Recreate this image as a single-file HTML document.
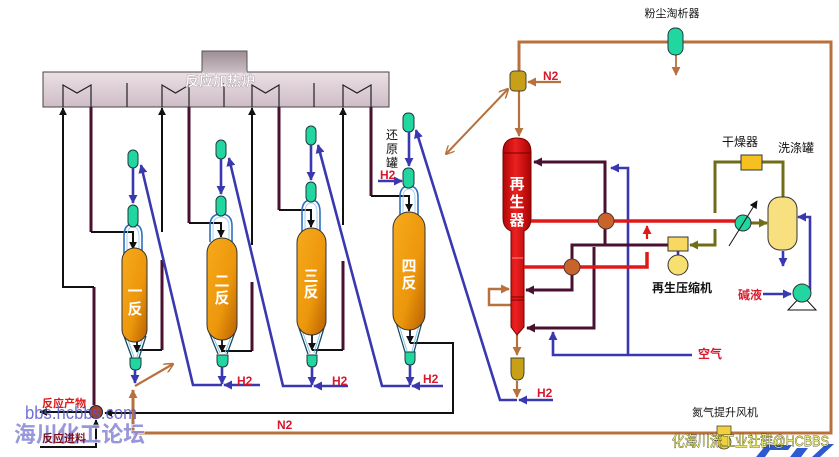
<!DOCTYPE html>
<html><head><meta charset="utf-8">
<style>
html,body{margin:0;padding:0;background:#fff;}
svg{display:block;font-family:"Liberation Sans","Noto Sans CJK SC",sans-serif;}
</style></head>
<body>
<svg width="839" height="457" viewBox="0 0 839 457" xmlns="http://www.w3.org/2000/svg">
<defs>
<linearGradient id="hg" x1="0" y1="0" x2="0" y2="1"><stop offset="0" stop-color="#ece0e6"/><stop offset="1" stop-color="#cfbcc6"/></linearGradient>
<linearGradient id="cg" x1="0" y1="0" x2="0" y2="1"><stop offset="0" stop-color="#9e8e96"/><stop offset="1" stop-color="#cbbfc5"/></linearGradient>
<linearGradient id="og" x1="0" y1="0" x2="1" y2="1"><stop offset="0" stop-color="#f7aa1c"/><stop offset="0.6" stop-color="#ec960c"/><stop offset="1" stop-color="#b86000"/></linearGradient>
<linearGradient id="rg" x1="0" y1="0" x2="1" y2="0"><stop offset="0" stop-color="#b00808"/><stop offset="0.45" stop-color="#ec2020"/><stop offset="1" stop-color="#a80404"/></linearGradient>
<marker id="mk" viewBox="0 0 10 10" refX="9" refY="5" markerWidth="8" markerHeight="8" markerUnits="userSpaceOnUse" orient="auto"><path d="M0,0L10,5L0,10z" fill="#111"/></marker>
<marker id="mb" viewBox="0 0 10 10" refX="9" refY="5" markerWidth="9" markerHeight="9" markerUnits="userSpaceOnUse" orient="auto"><path d="M0,0L10,5L0,10z" fill="#3a38b0"/></marker>
<marker id="mr" viewBox="0 0 10 10" refX="9" refY="5" markerWidth="9" markerHeight="9" markerUnits="userSpaceOnUse" orient="auto"><path d="M0,0L10,5L0,10z" fill="#b8703c"/></marker>
<marker id="mrs" viewBox="0 0 10 10" refX="1" refY="5" markerWidth="9" markerHeight="9" markerUnits="userSpaceOnUse" orient="auto"><path d="M10,0L0,5L10,10" fill="none" stroke="#b8703c" stroke-width="1.5"/></marker>
<marker id="mro" viewBox="0 0 10 10" refX="9" refY="5" markerWidth="10" markerHeight="10" markerUnits="userSpaceOnUse" orient="auto"><path d="M0,0L10,5L0,10" fill="none" stroke="#b8703c" stroke-width="1.5"/></marker>
<marker id="mm" viewBox="0 0 10 10" refX="9" refY="5" markerWidth="9" markerHeight="9" markerUnits="userSpaceOnUse" orient="auto"><path d="M0,0L10,5L0,10z" fill="#4a1030"/></marker>
<marker id="mred" viewBox="0 0 10 10" refX="9" refY="5" markerWidth="9" markerHeight="9" markerUnits="userSpaceOnUse" orient="auto"><path d="M0,0L10,5L0,10z" fill="#e01818"/></marker>
<marker id="mo" viewBox="0 0 10 10" refX="9" refY="5" markerWidth="9" markerHeight="9" markerUnits="userSpaceOnUse" orient="auto"><path d="M0,0L10,5L0,10z" fill="#706c18"/></marker>
</defs>

<!-- Heater -->
<rect x="202" y="51" width="45" height="22" fill="url(#cg)" stroke="#555" stroke-width="1"/>
<rect x="43" y="72" width="346" height="35" fill="url(#hg)" stroke="#444" stroke-width="1"/>
<line x1="202" y1="72" x2="247" y2="72" stroke="#c8bcc2" stroke-width="1.5"/>
<g fill="none" stroke="#222" stroke-width="1.2">
<polyline points="63,107 63,85 77,93 91,85 91,107"/>
<polyline points="162,107 162,85 175.5,93 189,85 189,107"/>
<polyline points="252,107 252,85 265.5,93 279,85 279,107"/>
<polyline points="343,107 343,85 357,93 371,85 371,107"/>
<line x1="127" y1="83" x2="127" y2="107"/>
<line x1="224" y1="83" x2="224" y2="107"/>
<line x1="314" y1="83" x2="314" y2="107"/>
</g>
<text x="220" y="86" text-anchor="middle" fill="#fff" font-size="14" font-weight="bold" stroke="#a89ca2" stroke-width="0.4">反应加热炉</text>

<!-- Maroon lines -->
<g fill="none" stroke="#4a1030" stroke-width="3">
<path d="M91,107 L91,232"/>
<path d="M189,107 L189,223"/>
<path d="M279,107 L279,210"/>
<path d="M371,107 L371,196"/>
<path d="M94,405 L94,287"/>
<path d="M162,350 L162,260"/>
<path d="M252,351 L252,282"/>
<path d="M343,350 L343,261"/>
</g>

<!-- Black lines -->
<g fill="none" stroke="#111" stroke-width="2">
<path d="M94,287 L63,287 L63,108" marker-end="url(#mk)"/>
<path d="M162,232 L162,108" marker-end="url(#mk)"/>
<path d="M252,245 L252,108" marker-end="url(#mk)"/>
<path d="M343,225 L343,108" marker-end="url(#mk)"/>
<path d="M91,232 L133,232 L133,249" marker-end="url(#mk)"/>
<path d="M189,223 L221,223 L221,237" marker-end="url(#mk)"/>
<path d="M279,210 L311,210 L311,227" marker-end="url(#mk)"/>
<path d="M371,196 L409,196 L409,211" marker-end="url(#mk)"/>
<path d="M137,350 L162,350"/>
<path d="M222,351 L252,351"/>
<path d="M312,350 L343,350"/>
<path d="M410,343 L453,343 L453,413 L105,413" marker-end="url(#mk)"/>
<path d="M89,412 L40,412" marker-end="url(#mk)"/>
<path d="M40,447 L96,447 L96,420" marker-end="url(#mk)"/>
</g>

<!-- Brown N2 loop -->
<g fill="none" stroke="#b8703c" stroke-width="3">
<path d="M133,433 L831,433 L831,42 L519,42 L519,71"/>
<path d="M133,433 L133,390" marker-end="url(#mr)"/>
<path d="M135,386 L173,364" stroke-width="2.2" marker-end="url(#mro)"/>
<path d="M519,91 L519,136" stroke-width="2.2" marker-end="url(#mr)"/>
<path d="M561,82 L528,82" stroke-width="2.2" marker-end="url(#mr)"/>
<path d="M446,154 L508,89" stroke-width="2" marker-start="url(#mrs)" marker-end="url(#mro)"/>
<path d="M676,55 L676,75" stroke-width="1.8" marker-end="url(#mr)"/>
<path d="M511,305 L489,305 L489,289 L509,289" stroke-width="2.5" marker-end="url(#mr)"/>
<path d="M517,335 L517,355" stroke-width="2.2" marker-end="url(#mr)"/>
<path d="M517,381 L517,397" stroke-width="2.2" marker-end="url(#mr)"/>
</g>

<!-- Reactor top cups -->
<g fill="none" stroke="#2f6fc0" stroke-width="1.6">
<path d="M124,254 L124,236 Q124,224 133,224 Q142,224 142,236 L142,254"/>
<path d="M210,242 L210,226 Q210,214 221,214 Q232,214 232,226 L232,242"/>
<path d="M302,232 L302,212 Q302,200 311,200 Q320,200 320,212 L320,232"/>
<path d="M400,216 L400,197 Q400,186 409,186 Q418,186 418,197 L418,216"/>
</g>
<g fill="none" stroke="#9fd0f0" stroke-width="1">
<path d="M127,252 L127,237 Q127,227 133,227 Q139,227 139,237 L139,252"/>
<path d="M213,240 L213,227 Q213,217 221,217 Q229,217 229,227 L229,240"/>
<path d="M305,230 L305,213 Q305,203 311,203 Q317,203 317,213 L317,230"/>
<path d="M403,214 L403,198 Q403,189 409,189 Q415,189 415,198 L415,214"/>
</g>

<!-- Reactor bottom cones -->
<g fill="none" stroke="#1a4a60" stroke-width="1.3">
<path d="M124,336 L132,358 M146,336 L139,358"/>
<path d="M209,332 L218,354 M235,332 L227,354"/>
<path d="M299,328 L308,354 M324,328 L316,354"/>
<path d="M396,322 L405,352 M422,322 L414,352"/>
</g>
<g fill="none" stroke="#7fc8e8" stroke-width="1">
<path d="M127,337 L134,357 M143,337 L137,357"/>
<path d="M212,334 L220,353 M232,334 L225,353"/>
<path d="M302,330 L310,353 M321,330 L314,353"/>
<path d="M399,325 L407,351 M419,325 L412,351"/>
</g>

<!-- Reactors -->
<g stroke="#333" stroke-width="1" fill="url(#og)">
<rect x="122" y="248" width="25" height="94" rx="12.5"/>
<rect x="207" y="238" width="30" height="102" rx="15"/>
<rect x="297" y="228" width="29" height="107" rx="14.5"/>
<rect x="393" y="212" width="32" height="118" rx="16"/>
</g>
<g fill="#fff" font-size="15" font-weight="bold" text-anchor="middle">
<text x="135" y="296">一</text><text x="135" y="314">反</text>
<text x="222" y="286">二</text><text x="222" y="303">反</text>
<text x="311" y="281">三</text><text x="311" y="297">反</text>
<text x="409" y="271">四</text><text x="409" y="288">反</text>
</g>
<g stroke="#111" stroke-width="1.8" fill="none">
<path d="M137,342 L137,352" marker-end="url(#mk)"/>
<path d="M222,340 L222,352" marker-end="url(#mk)"/>
<path d="M312,335 L312,350" marker-end="url(#mk)"/>
<path d="M410,330 L410,343" marker-end="url(#mk)"/>
</g>

<!-- Green tanks -->
<g fill="#22d6a0" stroke="#1d3a40" stroke-width="1">
<rect x="128" y="150" width="10" height="18" rx="5"/>
<rect x="128" y="205" width="10" height="22" rx="5"/>
<rect x="216" y="140" width="10" height="19" rx="5"/>
<rect x="216" y="196" width="10" height="20" rx="5"/>
<rect x="306" y="126" width="10" height="19" rx="5"/>
<rect x="306" y="182" width="10" height="20" rx="5"/>
<rect x="403" y="113" width="11" height="19" rx="5"/>
<rect x="403" y="168" width="11" height="20" rx="5"/>
<path d="M130,358 L141,358 L141,364 Q141,370 135.5,370 Q130,370 130,364 Z"/>
<path d="M217,355 L228,355 L228,361 Q228,367 222.5,367 Q217,367 217,361 Z"/>
<path d="M307,355 L317,355 L317,361 Q317,367 312,367 Q307,367 307,361 Z"/>
<path d="M405,352 L415,352 L415,359 Q415,365 410,365 Q405,365 405,359 Z"/>
<rect x="668" y="28" width="15" height="27" rx="7"/>
</g>

<!-- Blue lines -->
<g fill="none" stroke="#3a38b0" stroke-width="2.6">
<path d="M133,168 L133,203" marker-end="url(#mb)"/>
<path d="M221,159 L221,194" marker-end="url(#mb)"/>
<path d="M311,145 L311,180" marker-end="url(#mb)"/>
<path d="M409,132 L409,166" marker-end="url(#mb)"/>
<path d="M378,181 L402,181" marker-end="url(#mb)"/>
<path d="M135,370 L135,383" marker-end="url(#mb)"/>
<path d="M222,367 L222,384" marker-end="url(#mb)"/>
<path d="M312,367 L312,385" marker-end="url(#mb)"/>
<path d="M410,365 L410,385" marker-end="url(#mb)"/>
<path d="M222,385 L193,385 L141,165" marker-end="url(#mb)"/>
<path d="M260,385 L224,385" marker-end="url(#mb)"/>
<path d="M312,386 L283,386 L229,158" marker-end="url(#mb)"/>
<path d="M348,386 L314,386" marker-end="url(#mb)"/>
<path d="M410,386 L382,386 L318,145" marker-end="url(#mb)"/>
<path d="M443,386 L412,386" marker-end="url(#mb)"/>
<path d="M517,400 L500,400 L416,130" marker-end="url(#mb)"/>
<path d="M553,400 L519,400" marker-end="url(#mb)"/>
<path d="M628,355 L628,168 L611,168" marker-end="url(#mb)"/>
<path d="M692,355 L553,355 L553,332" marker-end="url(#mb)"/>
<path d="M678,251 L678,256"/>
<path d="M783,251 L783,266" marker-end="url(#mb)"/>
<path d="M763,294 L791,294" marker-end="url(#mb)"/>
<path d="M810,290 L810,217 L798,217" marker-end="url(#mb)"/>
</g>

<!-- Regenerator -->
<path d="M503,152 Q503,138 517,138 Q531,138 531,152 L531,218 Q531,228 524,231 L524,327 L517,335 L511,327 L511,231 Q503,228 503,218 Z" fill="url(#rg)" stroke="#700" stroke-width="1"/>
<g stroke="#700" stroke-width="1">
<line x1="503" y1="153" x2="531" y2="153"/>
<line x1="511" y1="297" x2="524" y2="297"/>
<line x1="511" y1="300" x2="524" y2="300"/>
</g>
<line x1="512" y1="258" x2="523" y2="258" stroke="#f88" stroke-width="1"/>
<g fill="#fff" font-size="15" font-weight="bold" text-anchor="middle">
<text x="517" y="189">再</text><text x="517" y="207">生</text><text x="517" y="225">器</text>
</g>

<!-- Regenerator piping -->
<g fill="none" stroke-width="3">
<path d="M605,245 L605,162 L534,162" stroke="#4a1030" marker-end="url(#mm)"/>
<path d="M668,245 L572,245 L572,290 L526,290" stroke="#4a1030" marker-end="url(#mm)"/>
<path d="M594,247 L594,328 L527,328" stroke="#4a1030" marker-end="url(#mm)"/>
<path d="M531,221 L735,221" stroke="#e01818" stroke-width="3.5"/>
<path d="M524,267 L647,267 L647,252" stroke="#e01818" stroke-width="3.5"/>
<path d="M647,239 L647,226" stroke="#e01818" stroke-width="2.2" marker-end="url(#mred)"/>
</g>
<circle cx="606" cy="221" r="8" fill="#c8642a" stroke="#533" stroke-width="1"/>
<circle cx="572" cy="267" r="8" fill="#c8642a" stroke="#533" stroke-width="1"/>

<!-- Gold tanks -->
<rect x="510" y="71" width="16" height="20" rx="4" fill="#c8a018" stroke="#443" stroke-width="1"/>
<path d="M511,358 L524,358 L524,372 Q524,380 517.5,380 Q511,380 511,372 Z" fill="#c8a018" stroke="#443" stroke-width="1"/>

<!-- Right section -->
<g fill="none" stroke="#706c18" stroke-width="3">
<path d="M715,213 L715,162 L741,162"/>
<path d="M762,162 L783,162 L783,198"/>
<path d="M751,223 L767,223" marker-end="url(#mo)"/>
<path d="M715,229 L715,245 L690,245" marker-end="url(#mo)"/>
</g>
<rect x="741" y="155" width="21" height="15" fill="#f5c020" stroke="#333" stroke-width="1"/>
<rect x="768" y="197" width="29" height="53" rx="12" fill="#f8e080" stroke="#333" stroke-width="1"/>
<circle cx="743" cy="223" r="8" fill="#22d6a0" stroke="#333" stroke-width="1"/>
<path d="M729,246 L757,201" stroke="#111" stroke-width="1" fill="none" marker-end="url(#mk)"/>
<rect x="668" y="237" width="20" height="14" fill="#f8d860" stroke="#333" stroke-width="1"/>
<circle cx="678" cy="265" r="10" fill="#f8e070" stroke="#333" stroke-width="1"/>
<path d="M788,310 L816,310 L802,295 Z" fill="#fff" stroke="#111" stroke-width="1"/>
<circle cx="802" cy="293" r="9" fill="#22d6a0" stroke="#333" stroke-width="1"/>

<!-- Blower -->
<rect x="717" y="426" width="14" height="9" fill="#f0d040" stroke="#443" stroke-width="0.8"/>
<circle cx="724" cy="442" r="7" fill="#f0d040" stroke="#443" stroke-width="0.8"/>

<!-- Labels -->
<g font-size="11" fill="#111">
<text x="672" y="17" text-anchor="middle">粉尘淘析器</text>
<text x="725" y="416" text-anchor="middle">氮气提升风机</text>
</g>
<g font-size="12" fill="#111">
<text x="740" y="146" text-anchor="middle">干燥器</text>
<text x="796" y="152" text-anchor="middle">洗涤罐</text>
<text x="682" y="292" text-anchor="middle" font-weight="bold">再生压缩机</text>
<text x="392" y="139" text-anchor="middle">还</text>
<text x="392" y="153" text-anchor="middle">原</text>
<text x="392" y="167" text-anchor="middle">罐</text>
</g>
<g fill="#d8182c" font-size="12" font-weight="bold">
<text x="380" y="179">H2</text>
<text x="237" y="385">H2</text>
<text x="332" y="385">H2</text>
<text x="423" y="383">H2</text>
<text x="537" y="397">H2</text>
<text x="543" y="80">N2</text>
<text x="277" y="429">N2</text>
<text x="698" y="358">空气</text>
<text x="738" y="299">碱液</text>
</g>
<text x="42" y="407" fill="#e01818" font-size="11" font-weight="bold">反应产物</text>
<circle cx="96" cy="412" r="6.5" fill="#a04030" stroke="#222" stroke-width="1"/>

<!-- Watermarks -->
<text x="25" y="419" font-size="18" fill="#5858cc" fill-opacity="0.85" textLength="112" lengthAdjust="spacingAndGlyphs">bbs.hcbbs.com</text>
<text x="14" y="442" font-size="22" font-weight="bold" fill="#8c8cd8" fill-opacity="0.9" stroke="#fff" stroke-width="1" paint-order="stroke" textLength="131" lengthAdjust="spacingAndGlyphs">海川化工论坛</text>
<text x="42" y="442" fill="#7a1020" font-size="11" font-weight="bold">反应进料</text>
<g fill="#2d5ad0">
<path d="M756,457 L766,445 L792,445 L788,450 L770,450 L765,457 Z"/>
<path d="M790,457 L797,448 L808,448 L801,457 Z"/>
<path d="M812,457 L826,444 L834,444 L820,457 Z"/>
</g>
<text x="672" y="446" font-size="15" fill="#e8e870" stroke="#2a2a10" stroke-width="0.7" paint-order="stroke" textLength="157" lengthAdjust="spacingAndGlyphs">化海川流工业社群@HCBBS</text>
</svg>
</body></html>
